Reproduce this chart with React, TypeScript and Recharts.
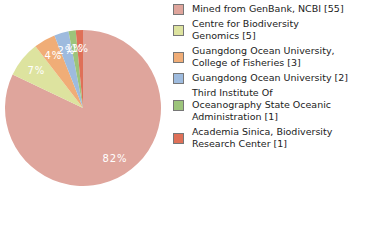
import { Pie, PieChart, Cell } from 'recharts'

const sources = [
  'Mined from GenBank, NCBI',
  'Centre for Biodiversity\nGenomics',
  'Guangdong Ocean University,\nCollege of Fisheries',
  'Guangdong Ocean University',
  'Third Institute Of\nOceanography State Oceanic\nAdministration',
  'Academia Sinica, Biodiversity\nResearch Center',
]
const counts = [55, 5, 3, 2, 1, 1]
const colors = ['#dfa59c', '#dde39f', '#f0ad77', '#9ebbde', '#9cc47b', '#df7058']

const total = counts.reduce((a, b) => a + b, 0)
const data = sources.map((name, i) => ({ name, value: counts[i] }))

const RADIAN = Math.PI / 180

function renderLabel(props: any) {
  const { cx, cy, midAngle, value } = props
  const r = 60
  const x = cx + r * Math.cos(-midAngle * RADIAN)
  const y = cy + r * Math.sin(-midAngle * RADIAN)
  return (
    <text
      x={x}
      y={y}
      fill="#fff"
      fontSize={10}
      fontFamily="DejaVu Sans"
      letterSpacing={1}
      textAnchor="middle"
      dominantBaseline="central"
    >
      {Math.floor((value / total) * 100)}%
    </text>
  )
}

export default function App() {
  return (
    <div style={{ position: 'absolute', left: 0, top: 0, width: 380, height: 240, background: '#fff' }}>
      <PieChart width={170} height={240} margin={{ top: 0, right: 0, bottom: 0, left: 0 }}>
        <Pie
          data={data}
          dataKey="value"
          cx={83}
          cy={108}
          outerRadius={78}
          startAngle={90}
          endAngle={-270}
          stroke="none"
          label={renderLabel}
          labelLine={false}
          isAnimationActive={false}
        >
          {data.map((d, i) => (
            <Cell key={d.name} fill={colors[i]} />
          ))}
        </Pie>
      </PieChart>
      <div
        style={{
          position: 'absolute',
          left: 173,
          top: 3,
          fontFamily: 'DejaVu Sans',
          fontSize: 9.5,
          lineHeight: '12px',
          color: '#222',
        }}
      >
        {data.map((d, i) => (
          <div key={d.name} style={{ display: 'flex', alignItems: 'center', marginBottom: 3 }}>
            <div
              style={{
                width: 9,
                height: 9,
                background: colors[i],
                border: '1px solid #777',
                marginRight: 8,
                flexShrink: 0,
              }}
            />
            <div style={{ whiteSpace: 'pre-line' }}>
              {d.name} [{d.value}]
            </div>
          </div>
        ))}
      </div>
    </div>
  )
}
